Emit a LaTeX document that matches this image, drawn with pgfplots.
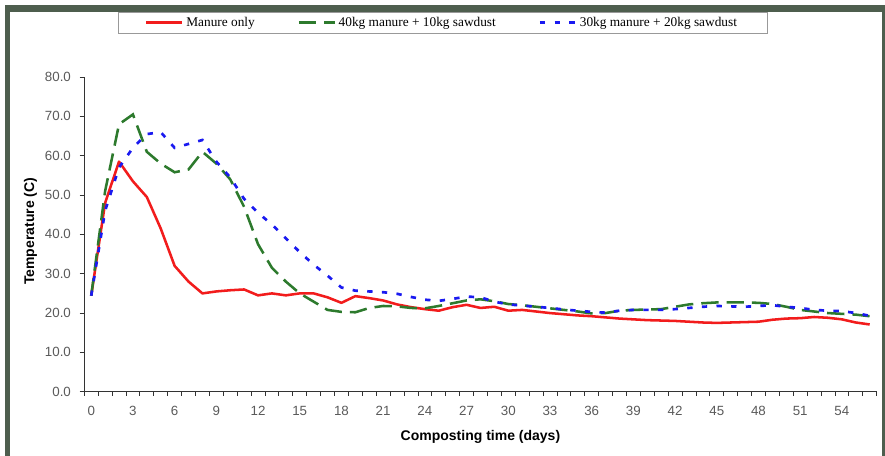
\documentclass[border=0pt]{standalone}
\usepackage{fontspec}
\setmainfont{Liberation Sans}
\newfontfamily\legfont{Liberation Serif}
\usepackage{pgfplots}
\pgfplotsset{compat=1.18}
\usepackage{pgfplotstable}
\definecolor{framecol}{HTML}{4E5E4E}
\definecolor{cred}{HTML}{F21C1C}
\definecolor{cgreen}{HTML}{2D7A2D}
\definecolor{cblue}{HTML}{1A1AF0}
\definecolor{ticktext}{HTML}{5A5A5A}

\pgfplotstableread{
day manure m40 m30
0 24.4 24.4 24.4
1 48.0 51.0 46.0
2 58.5 68.0 57.0
3 53.5 70.5 62.0
4 49.5 61.0 65.5
5 41.5 58.0 66.0
6 32.0 55.8 62.0
7 28.0 56.5 63.0
8 25.0 61.0 64.0
9 25.5 58.0 58.5
10 25.8 54.0 54.5
11 26.0 47.0 49.0
12 24.5 37.5 45.5
13 25.0 31.5 42.5
14 24.5 28.0 39.0
15 25.0 25.0 35.5
16 25.0 22.9 32.3
17 24.0 20.8 29.5
18 22.6 20.3 26.5
19 24.3 20.2 25.7
20 23.8 21.3 25.5
21 23.2 21.8 25.3
22 22.2 21.7 24.9
23 21.5 21.3 24.1
24 21.0 21.2 23.4
25 20.6 21.8 23.1
26 21.5 22.5 23.6
27 22.1 23.2 24.2
28 21.3 23.5 24.0
29 21.6 23.0 22.9
30 20.6 22.3 22.2
31 20.8 22.0 21.9
32 20.4 21.6 21.6
33 20.0 21.2 21.3
34 19.7 20.8 20.9
35 19.4 20.4 20.6
36 19.2 19.9 20.3
37 18.9 20.0 20.1
38 18.6 20.6 20.6
39 18.4 20.8 20.8
40 18.2 20.9 20.8
41 18.1 21.0 20.8
42 18.0 21.6 21.0
43 17.8 22.2 21.3
44 17.6 22.5 21.6
45 17.5 22.7 21.8
46 17.6 22.7 21.7
47 17.7 22.7 21.6
48 17.8 22.6 21.8
49 18.3 22.3 22.0
50 18.6 21.6 21.6
51 18.7 20.8 21.3
52 19.0 20.4 20.8
53 18.8 20.0 20.6
54 18.4 19.8 20.5
55 17.6 19.6 20.0
56 17.1 19.2 19.3
}\datatable

\begin{document}
\begin{tikzpicture}
\begin{scope}[x=0.75pt,y=0.75pt]
\path[use as bounding box, fill=white] (0,0) rectangle (885,456);
\fill[framecol] (5,0) rectangle (10,451);
\fill[framecol] (5,444) rectangle (885,451);
\fill[framecol] (881.7,0) rectangle (885,451);
\end{scope}
\begin{axis}[
  at={(63.2pt,48.2pt)}, anchor=south west,
  scale only axis, width=594.3pt, height=236pt,
  xmin=-0.5, xmax=56.5, ymin=0, ymax=80,
  axis lines=left,
  axis line style={-, black!80, line width=0.6pt},
  xtick={0,3,...,54},
  minor xtick={-0.5,0.5,...,56.5},
  major x tick style={draw=none},
  ytick={0,10,...,80},
  tick align=outside,
  major tick length=3.5pt,
  minor tick length=3pt,
  tick style={black!80, line width=0.6pt},
  /pgf/number format/assume math mode=true,
  tick label style={font=\fontsize{10}{12}\selectfont, text=ticktext},
  yticklabel style={/pgf/number format/.cd, fixed, fixed zerofill, precision=1, /tikz/.cd, xshift=-3pt},
  xticklabel style={yshift=-4pt},
  xlabel={Composting time (days)},
  ylabel={Temperature (C)},
  label style={font=\bfseries\fontsize{10.5}{12}\selectfont},
  xlabel style={at={(axis description cs:0.5,-0.144)}, anchor=center},
  ylabel style={at={(axis description cs:-0.068,0.51)}, anchor=center},
  legend columns=3,
  legend style={at={(axis description cs:0.452,1.173)}, anchor=center,
    draw=gray!80, line width=0.5pt, fill=white,
    font=\legfont\fontsize{10}{12}\selectfont,
    inner xsep=20.5pt, inner ysep=1.5pt,
    /tikz/every even column/.append style={column sep=30pt}},
  legend image code/.code={\draw[#1] (0pt,0pt) -- (27pt,0pt);},
]
\addplot[cred, line width=1.9pt, line join=round] table[x=day, y=manure] {\datatable};
\addlegendentry{Manure only}
\addplot[cgreen, line width=1.9pt, dash pattern=on 13pt off 6pt] table[x=day, y=m40] {\datatable};
\addlegendentry{40kg manure + 10kg sawdust}
\addplot[cblue, line width=2pt, dash pattern=on 4pt off 7pt] table[x=day, y=m30] {\datatable};
\addlegendentry{30kg manure + 20kg sawdust}
\end{axis}
\end{tikzpicture}
\end{document}
